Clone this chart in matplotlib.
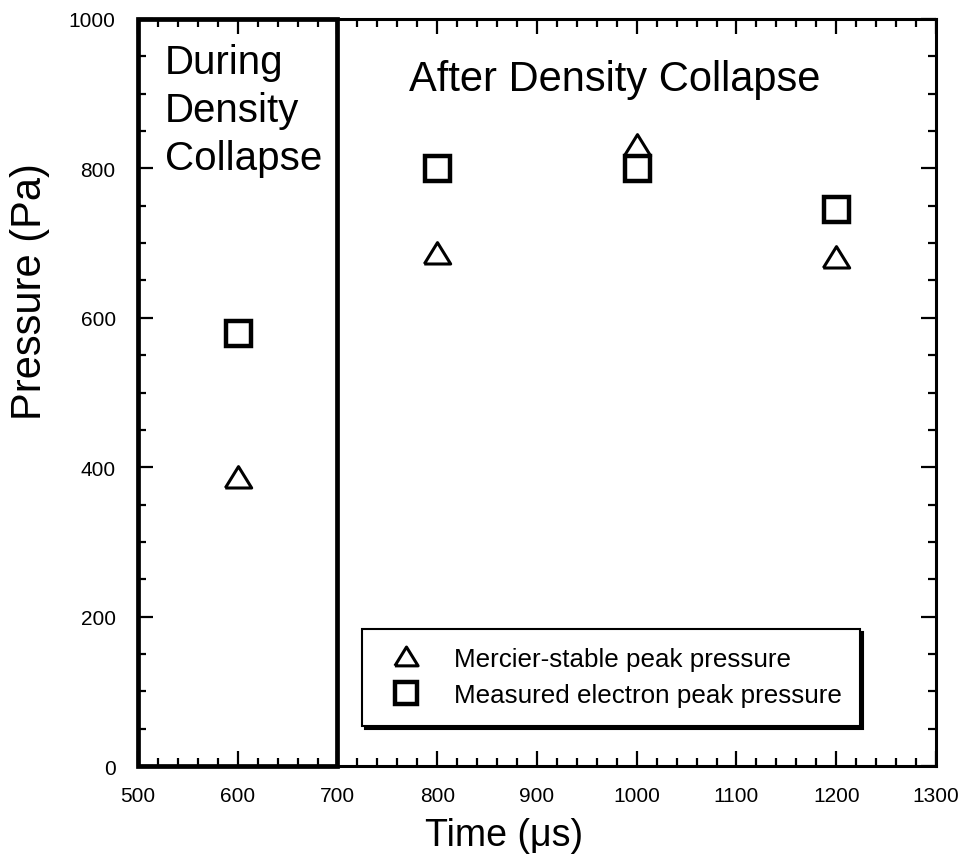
import matplotlib
matplotlib.use("Agg")
import matplotlib.pyplot as plt
from matplotlib.ticker import MultipleLocator
from matplotlib.patches import Rectangle

plt.rcParams['font.family'] = ['Liberation Sans', 'DejaVu Sans']

# peak pressure vs time
time_us = [600, 800, 1000, 1200]
mercier_pa = [385, 685, 830, 680]
measured_pa = [580, 800, 800, 745]

# slightly flattened open triangle
tri = [(-1, -0.72), (1, -0.72), (0, 0.9), (-1, -0.72)]

fig = plt.figure(figsize=(9.58, 8.62), dpi=100)
ax = fig.add_axes([0.144, 0.110, 0.833, 0.867])

ax.plot(time_us, mercier_pa, linestyle='none', marker=tri, ms=19,
        mfc='white', mec='black', mew=2.2, label='Mercier-stable peak pressure')
ax.plot(time_us, measured_pa, linestyle='none', marker='s', ms=18,
        mfc='white', mec='black', mew=3.2, label='Measured electron peak pressure')

# box marking the collapse phase
ax.add_patch(Rectangle((500, 0), 200, 1000, fill=False, lw=3.4,
                       ec='black', zorder=3, clip_on=False))

ax.text(527, 968, 'During\nDensity\nCollapse', fontsize=29, va='top',
        ha='left', linespacing=1.34)
ax.text(978, 946, 'After Density Collapse', fontsize=30, va='top', ha='center')

ax.set_xlim(500, 1300)
ax.set_ylim(0, 1000)
ax.xaxis.set_major_locator(MultipleLocator(100))
ax.xaxis.set_minor_locator(MultipleLocator(20))
ax.yaxis.set_major_locator(MultipleLocator(200))
ax.yaxis.set_minor_locator(MultipleLocator(50))
ax.tick_params(which='both', direction='in', top=True, right=True,
               labelsize=15, width=1.6)
ax.tick_params(which='major', length=11)
ax.tick_params(which='minor', length=6)
ax.tick_params(axis='x', which='major', pad=14)
ax.tick_params(axis='y', which='major', pad=16)
for sp in ax.spines.values():
    sp.set_linewidth(2.2)

ax.set_xlabel('Time (\u03bcs)', fontsize=27, va='center')
ax.xaxis.set_label_coords(0.459, -0.092)
ax.set_ylabel('Pressure (Pa)', fontsize=30, va='center', ha='center')
ax.yaxis.set_label_coords(-0.135, 0.636)

leg = ax.legend(loc='lower right', bbox_to_anchor=(0.905, 0.054),
                fontsize=18.7, frameon=True, fancybox=False,
                shadow={'color': 'black', 'alpha': 1},
                borderpad=0.72, labelspacing=0.45, handletextpad=0.85,
                handlelength=1.95, borderaxespad=0, markerscale=0.88)
leg.get_frame().set_edgecolor('black')
leg.get_frame().set_linewidth(1.5)

fig.savefig('out.png', dpi=100)
